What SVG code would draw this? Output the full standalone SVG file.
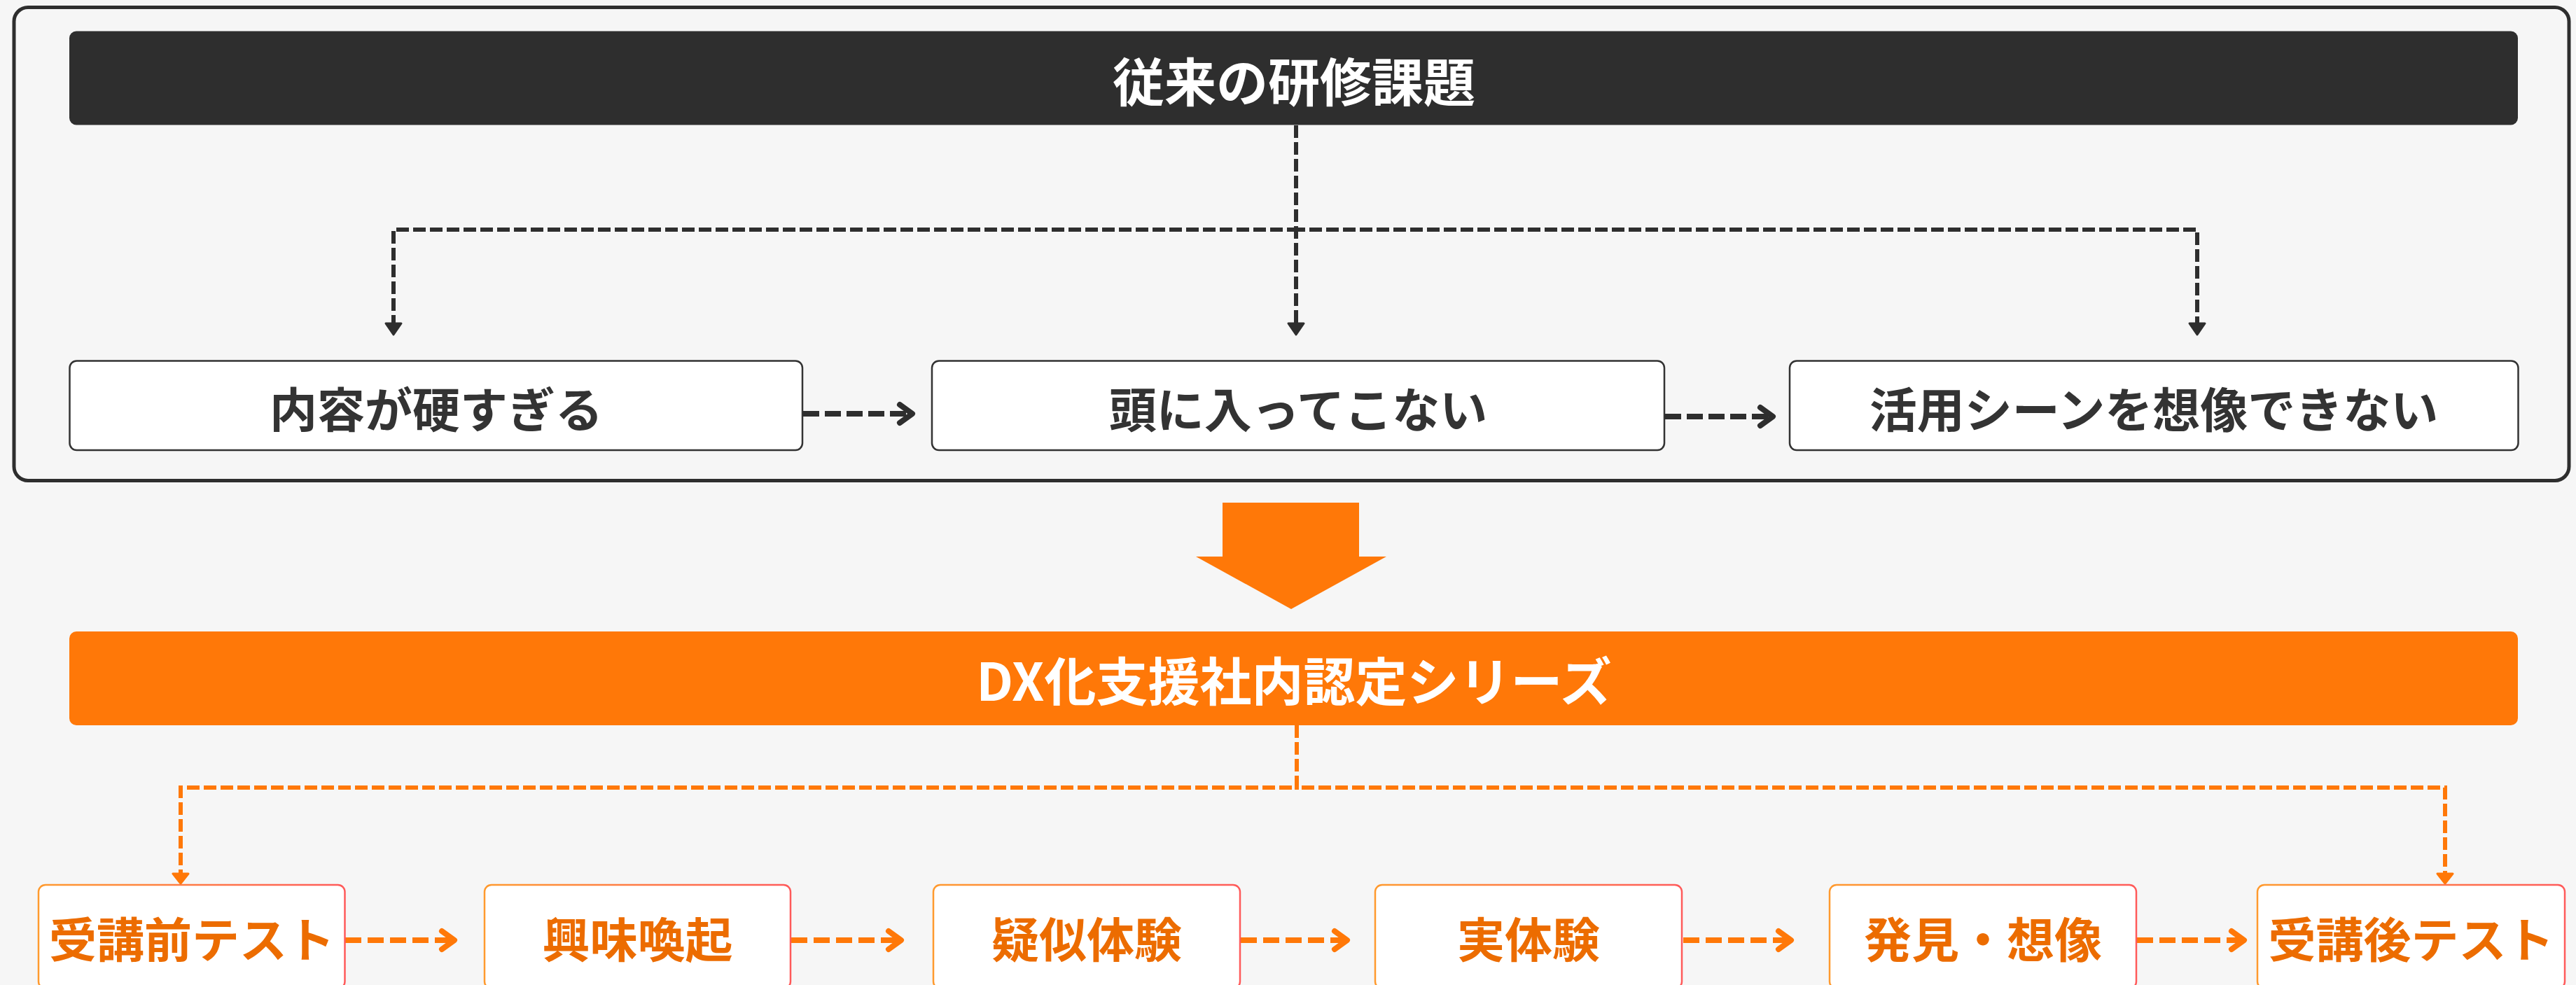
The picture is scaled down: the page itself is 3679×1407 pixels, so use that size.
<svg xmlns="http://www.w3.org/2000/svg" width="3679" height="1407" viewBox="0 0 3679 1407">
<defs>
<style>
.bg{fill:#f6f6f6}
.frame{fill:#f6f6f6;stroke:#2e2e2e;stroke-width:5}
.hdr{fill:#2e2e2e}
.obar{fill:#ff7808}
.box{fill:#ffffff;stroke:#333333;stroke-width:2.5}
.obox{fill:#ffffff;stroke:url(#og);stroke-width:2.5}
text{font-family:'Noto Sans CJK JP','Noto Sans',sans-serif;font-weight:700;text-anchor:middle;dominant-baseline:central}
.t-title{font-size:74px;fill:#ffffff}
.t-box{font-size:68px;fill:#333333}
.t-obox{font-size:68px;fill:#ec6c00}
.c-dark{fill:none;stroke:#2e2e2e;stroke-width:6;stroke-dasharray:18 6}
.a-dark{fill:none;stroke:#2e2e2e;stroke-width:8;stroke-dasharray:23 8}
.c-org{fill:none;stroke:#ff7808;stroke-width:6;stroke-dasharray:18 6}
.a-org{fill:none;stroke:#ff7808;stroke-width:8;stroke-dasharray:23 9}
</style>
<linearGradient id="og" x1="0" y1="0" x2="1" y2="0">
<stop offset="0" stop-color="#ff9a2e"/>
<stop offset="1" stop-color="#ff5a5a"/>
</linearGradient>
<marker id="tri-dark" markerUnits="userSpaceOnUse" markerWidth="30" markerHeight="30" refX="0" refY="0" orient="auto" overflow="visible">
<path d="M0,-11 L16,0 L0,11 Z" fill="#2e2e2e" stroke="#2e2e2e" stroke-width="3" stroke-linejoin="round"/>
</marker>
<marker id="tri-org" markerUnits="userSpaceOnUse" markerWidth="30" markerHeight="30" refX="0" refY="0" orient="auto" overflow="visible">
<path d="M0,-11 L14,0 L0,11 Z" fill="#ff7808" stroke="#ff7808" stroke-width="3" stroke-linejoin="round"/>
</marker>
<marker id="chev-dark" markerUnits="userSpaceOnUse" markerWidth="30" markerHeight="30" refX="0" refY="0" orient="auto" overflow="visible">
<path d="M-18,-13 L0,0 L-18,13" fill="none" stroke="#2e2e2e" stroke-width="8" stroke-linecap="round" stroke-linejoin="round"/>
</marker>
<marker id="chev-org" markerUnits="userSpaceOnUse" markerWidth="30" markerHeight="30" refX="0" refY="0" orient="auto" overflow="visible">
<path d="M-18,-13 L0,0 L-18,13" fill="none" stroke="#ff7808" stroke-width="8" stroke-linecap="round" stroke-linejoin="round"/>
</marker>
</defs>

<rect class="bg" x="0" y="0" width="3679" height="1407"/>

<g id="frame-old">
<rect class="frame" x="20" y="10.5" width="3649" height="676" rx="20" ry="20"/>
</g>

<g id="connectors">
<path class="c-dark" d="M1851,179 V328 H562 V462" marker-end="url(#tri-dark)"/>
<path class="c-dark" d="M1851,179 V462" marker-end="url(#tri-dark)"/>
<path class="c-dark" d="M1851,179 V328 H3138 V462" marker-end="url(#tri-dark)"/>
<path class="a-dark" d="M1147,591 H1303" marker-end="url(#chev-dark)"/>
<path class="a-dark" d="M2378,595 H2532" marker-end="url(#chev-dark)"/>
<path class="c-org" d="M1852,1036 V1125 H258 V1248" marker-end="url(#tri-org)"/>
<path class="c-org" d="M1852,1036 V1125 H3492 V1248" marker-end="url(#tri-org)"/>
<path class="a-org" d="M493,1343 H649" marker-end="url(#chev-org)"/>
<path class="a-org" d="M1130,1343 H1287" marker-end="url(#chev-org)"/>
<path class="a-org" d="M1772,1343 H1924" marker-end="url(#chev-org)"/>
<path class="a-org" d="M2404,1343 H2558" marker-end="url(#chev-org)"/>
<path class="a-org" d="M3052,1343 H3205" marker-end="url(#chev-org)"/>
</g>

<g id="header-old">
<rect class="hdr" x="99" y="44.5" width="3497" height="134" rx="10" ry="10"/>
<text class="t-title" x="1848" y="112">従来の研修課題</text>
</g>

<g id="box-hard">
<rect class="box" x="99.5" y="515.5" width="1046.5" height="127.5" rx="10" ry="10"/>
<text class="t-box" x="623" y="581">内容が硬すぎる</text>
</g>
<g id="box-head">
<rect class="box" x="1331" y="515.5" width="1046" height="127.5" rx="10" ry="10"/>
<text class="t-box" x="1854" y="581">頭に入ってこない</text>
</g>
<g id="box-scene">
<rect class="box" x="2556" y="515.5" width="1040.5" height="127.5" rx="10" ry="10"/>
<text class="t-box" x="3076" y="581">活用シーンを想像できない</text>
</g>

<g id="big-arrow">
<polygon points="1746,718 1941,718 1941,795 1980,795 1844,870 1708,795 1746,795" fill="#ff7808"/>
</g>

<g id="header-dx">
<rect class="obar" x="99" y="902" width="3497" height="134" rx="10" ry="10"/>
<text class="t-title" x="1848" y="968">DX化支援社内認定シリーズ</text>
</g>

<g id="step-pre-test">
<rect class="obox" x="55" y="1264" width="437.5" height="148" rx="10" ry="10"/>
<text class="t-obox" x="274" y="1338">受講前テスト</text>
</g>
<g id="step-interest">
<rect class="obox" x="692" y="1264" width="437" height="148" rx="10" ry="10"/>
<text class="t-obox" x="910.5" y="1338">興味喚起</text>
</g>
<g id="step-simulated">
<rect class="obox" x="1333" y="1264" width="438" height="148" rx="10" ry="10"/>
<text class="t-obox" x="1552" y="1338">疑似体験</text>
</g>
<g id="step-real">
<rect class="obox" x="1964" y="1264" width="438" height="148" rx="10" ry="10"/>
<text class="t-obox" x="2183" y="1338">実体験</text>
</g>
<g id="step-discover">
<rect class="obox" x="2613" y="1264" width="438" height="148" rx="10" ry="10"/>
<text class="t-obox" x="2832" y="1338">発見・想像</text>
</g>
<g id="step-post-test">
<rect class="obox" x="3224" y="1264" width="439" height="148" rx="10" ry="10"/>
<text class="t-obox" x="3443.5" y="1338">受講後テスト</text>
</g>
</svg>
